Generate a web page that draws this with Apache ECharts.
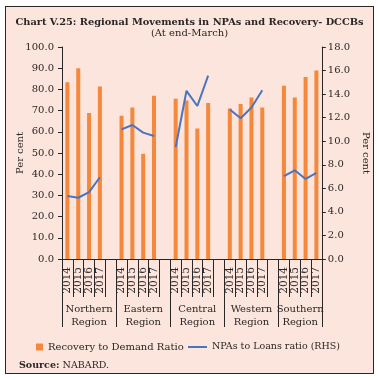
<!DOCTYPE html>
<html>
<head>
<meta charset="utf-8">
<script src="https://cdn.jsdelivr.net/npm/echarts@6/dist/echarts.min.js"></script>
<style>
html,body{margin:0;padding:0;background:#ffffff;}
#frame{position:absolute;left:5px;top:6px;width:369px;height:368px;border:1.5px solid #2b2626;background:#fbe5dc;box-sizing:border-box;}
#chart{position:absolute;left:0;top:0;width:379px;height:380px;}
</style>
</head>
<body>
<div id="frame"></div>
<div id="chart"></div>
<script>
var years = ['2014','2015','2016','2017'];
var regions = ['Northern\nRegion','Eastern\nRegion','Central\nRegion','Western\nRegion','Southern\nRegion'];
var recovery = {
  northern: [83.4, 90.0, 68.9, 81.4],
  eastern:  [67.6, 71.5, 49.6, 77.0],
  central:  [75.6, 74.8, 61.5, 73.6],
  western:  [71.0, 73.1, 76.2, 71.5],
  southern: [81.7, 76.2, 85.8, 88.9]
};
var npas = {
  northern: [5.34, 5.20, 5.68, 6.94],
  eastern:  [11.00, 11.38, 10.73, 10.45],
  central:  [9.50, 14.28, 12.99, 15.57],
  western:  [12.70, 11.95, 12.87, 14.33],
  southern: [7.03, 7.53, 6.80, 7.31]
};
var leftTicks = {min: 0, max: 100, interval: 10};
var rightTicks = {min: 0, max: 18, interval: 2};

var keys = ['northern','eastern','central','western','southern'];
var cats = [], barData = [], lineData = [];
var groupBounds = [0], groupCenters = [];
keys.forEach(function(k, gi){
  var start = cats.length;
  years.forEach(function(y, i){
    cats.push(y);
    barData.push(recovery[k][i]);
    lineData.push(npas[k][i]);
  });
  if (gi < keys.length - 1) { cats.push(''); barData.push(null); lineData.push(null); }
  groupBounds.push(cats.length);
  groupCenters.push((start + cats.length) / 2);
});

var serif = 'DejaVu Serif';
var dark = '#2b2626';
var txt = '#2b2626';
var barColor = '#f5883a';
var lineColor = '#4a74c0';
var chart = echarts.init(document.getElementById('chart'), null, {renderer: 'canvas'});
chart.setOption({
  backgroundColor: 'transparent',
  animation: false,
  textStyle: {fontFamily: serif, color: txt},
  title: [{
    text: 'Chart V.25: Regional Movements in NPAs and Recovery- DCCBs',
    subtext: '(At end-March)',
    left: 'center', top: 12, itemGap: 1,
    textStyle: {fontFamily: serif, fontWeight: 'bold', fontSize: 9.8, color: txt},
    subtextStyle: {fontFamily: serif, fontSize: 10, color: txt}
  },{
    text: '{b|Source:} {n|NABARD.}',
    left: 14, top: 356,
    textStyle: {
      fontFamily: serif, fontSize: 10, fontWeight: 'normal', color: txt,
      rich: {
        b: {fontFamily: serif, fontWeight: 'bold', fontSize: 9.5, color: txt},
        n: {fontFamily: serif, fontWeight: 'normal', fontSize: 9.5, color: txt}
      }
    }
  }],
  grid: {left: 62, right: 57, top: 47, bottom: 121, containLabel: false},
  legend: [{
    left: 31, top: 337, itemWidth: 7, itemHeight: 7,
    textStyle: {fontFamily: serif, fontSize: 10, color: txt},
    data: [{name: 'Recovery to Demand Ratio', icon: 'rect', itemStyle: {color: barColor}}]
  },{
    left: 183, top: 337, itemWidth: 19, itemHeight: 2,
    textStyle: {fontFamily: serif, fontSize: 9.5, color: txt},
    data: [{name: 'NPAs to Loans ratio (RHS)', icon: 'rect', itemStyle: {color: lineColor}}]
  }],
  xAxis: [{
    type: 'category', data: cats, position: 'bottom',
    axisLine: {show: true, lineStyle: {color: dark, width: 1}},
    axisTick: {show: true, interval: 0, length: 38, lineStyle: {color: dark, width: 1}},
    axisLabel: {interval: 0, rotate: 90, margin: 8, fontSize: 10.5, fontFamily: serif, color: txt}
  },{
    type: 'value', min: 0, max: cats.length, position: 'bottom', offset: 0,
    axisLine: {show: false},
    splitLine: {show: false},
    axisTick: {show: true, customValues: groupBounds, length: 68, lineStyle: {color: dark, width: 1}},
    axisLabel: {
      customValues: groupCenters, margin: 44, fontSize: 10, fontFamily: serif, color: txt, lineHeight: 13,
      formatter: function(v){ var i = groupCenters.indexOf(v); return i >= 0 ? regions[i] : ''; }
    }
  }],
  yAxis: [{
    type: 'value', min: leftTicks.min, max: leftTicks.max, interval: leftTicks.interval,
    name: 'Per cent', nameLocation: 'middle', nameGap: 37, nameRotate: 90, nameMoveOverlap: false,
    nameTextStyle: {fontFamily: serif, fontSize: 10, color: txt},
    axisLine: {show: true, lineStyle: {color: dark}},
    axisTick: {show: true, length: 4, lineStyle: {color: dark}},
    splitLine: {show: false},
    axisLabel: {fontSize: 10, fontFamily: serif, color: txt, margin: 8, formatter: function(v){return v.toFixed(1);}}
  },{
    type: 'value', min: rightTicks.min, max: rightTicks.max, interval: rightTicks.interval,
    name: 'Per cent', nameLocation: 'middle', nameGap: 35, nameRotate: -90,
    nameTextStyle: {fontFamily: serif, fontSize: 10, color: txt},
    axisLine: {show: true, lineStyle: {color: dark}},
    axisTick: {show: true, length: 4, lineStyle: {color: dark}},
    splitLine: {show: false},
    axisLabel: {fontSize: 10, fontFamily: serif, color: txt, margin: 6, formatter: function(v){return v.toFixed(1);}}
  }],
  series: [{
    name: 'Recovery to Demand Ratio', type: 'bar', xAxisIndex: 0, yAxisIndex: 0,
    data: barData, barWidth: 4, itemStyle: {color: barColor}
  },{
    name: 'NPAs to Loans ratio (RHS)', type: 'line', xAxisIndex: 0, yAxisIndex: 1,
    data: lineData, connectNulls: false, showSymbol: false, symbol: 'none',
    lineStyle: {color: lineColor, width: 2}, itemStyle: {color: lineColor}
  }]
});
</script>
</body>
</html>
